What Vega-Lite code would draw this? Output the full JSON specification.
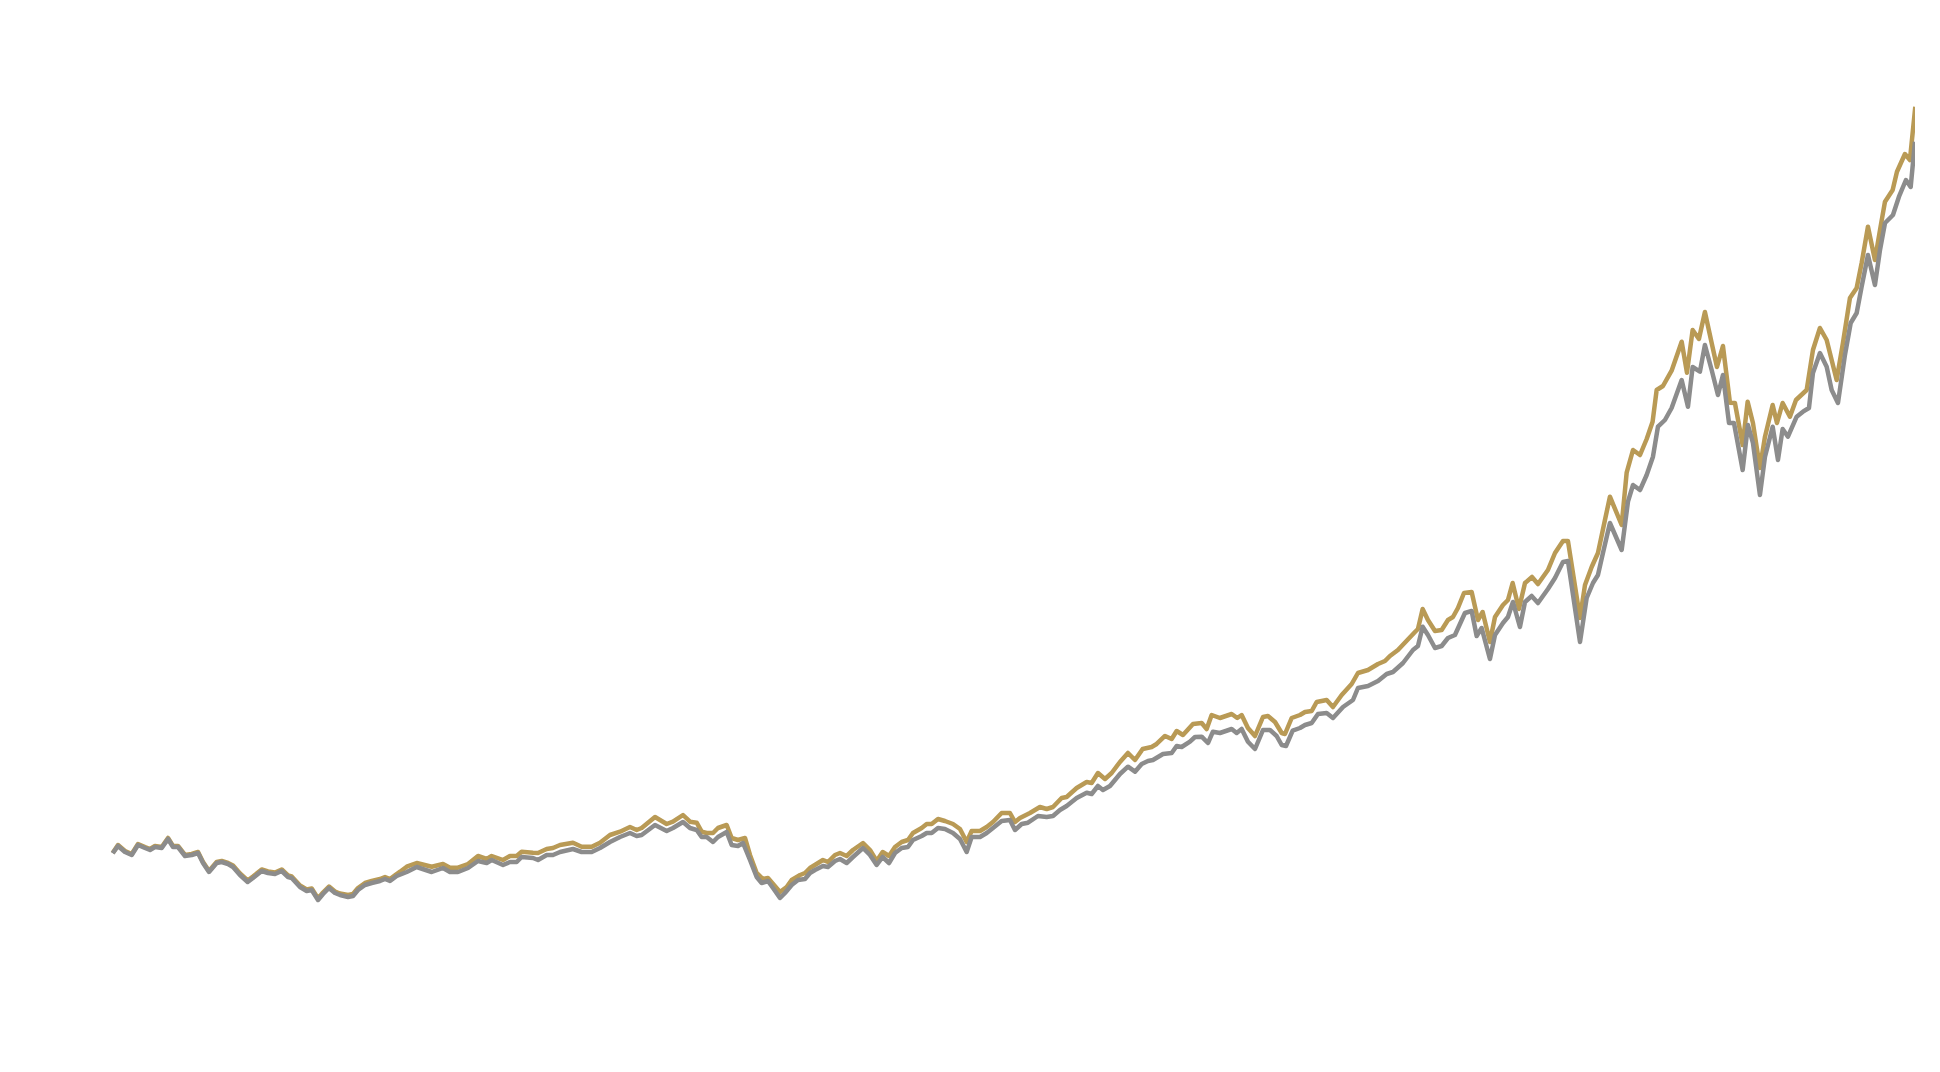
{
  "$schema": "https://vega.github.io/schema/vega-lite/v6.json",
  "width": 1802.6,
  "height": 850,
  "autosize": {"type": "none"},
  "padding": {"left": 112.7, "top": 70, "right": 0, "bottom": 0},
  "background": "white",
  "config": {"view": {"stroke": null}},
  "datasets": {
    "gold": [
      {"m":0,"v":67},{"m":0.85,"v":75},{"m":1.97,"v":69},{"m":3.05,"v":66},{"m":4.06,"v":76},{"m":5.18,"v":73},{"m":5.98,"v":71},{"m":6.78,"v":74},{"m":7.86,"v":73},{"m":8.87,"v":82},{"m":9.67,"v":74},{"m":10.47,"v":74},{"m":11.59,"v":65},{"m":12.67,"v":66},{"m":13.68,"v":68},{"m":14.48,"v":58},{"m":15.44,"v":49},{"m":16.67,"v":58},{"m":17.48,"v":59},{"m":18.49,"v":57},{"m":19.29,"v":54.5},{"m":20.41,"v":46.5},{"m":21.64,"v":39.5},{"m":22.49,"v":43.5},{"m":23.89,"v":50.5},{"m":24.9,"v":48.5},{"m":26.02,"v":47.5},{"m":27.1,"v":50.5},{"m":28.11,"v":44.5},{"m":28.7,"v":43.5},{"m":30.03,"v":34.5},{"m":31.1,"v":30.5},{"m":31.91,"v":31.5},{"m":32.92,"v":21.5},{"m":33.72,"v":27.5},{"m":34.68,"v":33.5},{"m":35.64,"v":28.5},{"m":36.44,"v":26.5},{"m":37.73,"v":25},{"m":38.53,"v":26},{"m":39.33,"v":32},{"m":40.45,"v":37},{"m":41.53,"v":39},{"m":42.86,"v":41},{"m":43.66,"v":43},{"m":44.46,"v":41},{"m":45.53,"v":46},{"m":46.07,"v":48.3},
      {"m":47.14,"v":53.3},{"m":48.74,"v":57},{"m":51.15,"v":53.3},{"m":52.96,"v":56},{"m":54.08,"v":52.3},{"m":55.36,"v":52.3},{"m":56.97,"v":56},{"m":58.57,"v":64},{"m":59.96,"v":61},{"m":60.77,"v":64},{"m":62.58,"v":60},{"m":63.7,"v":64},{"m":64.77,"v":64},{"m":65.57,"v":68.3},{"m":67.39,"v":67.3},{"m":68.19,"v":67},{"m":69.58,"v":71},{"m":70.59,"v":72},{"m":71.72,"v":75},{"m":73.8,"v":77.3},{"m":75.19,"v":73.3},{"m":76.8,"v":73.3},{"m":78.13,"v":77.3},{"m":79.73,"v":85},{"m":81.34,"v":88.3},{"m":82.94,"v":93},{"m":84.01,"v":90},{"m":84.81,"v":92},{"m":86.95,"v":103},{"m":88.82,"v":96},{"m":89.83,"v":98.3},{"m":91.44,"v":105},{"m":92.56,"v":98.3},{"m":93.63,"v":97.3},{"m":94.43,"v":88.3},{"m":95.24,"v":87},{"m":96.25,"v":87},{"m":97.05,"v":92},{"m":98.44,"v":95},{"m":99.24,"v":82},{"m":100.25,"v":80},{"m":101.38,"v":82},{"m":102.18,"v":65},{"m":103.25,"v":47},{"m":104.26,"v":41},{"m":105.06,"v":42},{"m":106.99,"v":28},{"m":108.06,"v":33},{"m":108.86,"v":40},{"m":110.22,"v":45},{"m":111,"v":47},{"m":111.8,"v":52},{"m":113.88,"v":60},{"m":114.68,"v":58},{"m":115.81,"v":65},{"m":116.61,"v":67},{"m":117.68,"v":64},{"m":118.69,"v":70},{"m":120.3,"v":77},{"m":121.42,"v":70},{"m":122.49,"v":59},{"m":123.45,"v":68},{"m":124.47,"v":64},{"m":125.43,"v":73},{"m":126.5,"v":78},{"m":127.51,"v":80},{"m":128.31,"v":87},{"m":129.71,"v":92},{"m":130.51,"v":96},{"m":131.31,"v":96},{"m":132.32,"v":101},{"m":133.44,"v":99},{"m":134.73,"v":96},{"m":135.85,"v":91},{"m":136.92,"v":78},{"m":137.72,"v":89},{"m":139.06,"v":89},{"m":140.13,"v":93},{"m":141.14,"v":98},{"m":142.53,"v":107},{"m":143.86,"v":107},{"m":144.67,"v":98},{"m":145.47,"v":102},{"m":147.07,"v":107},{"m":148.67,"v":113},{"m":149.75,"v":111},{"m":150.76,"v":113},{"m":152.15,"v":122},{"m":152.95,"v":123},{"m":154.56,"v":132},{"m":156.16,"v":138},{"m":156.96,"v":137},{"m":157.97,"v":147},{"m":159.1,"v":141},{"m":160.17,"v":147},{"m":161.5,"v":158},{"m":162.78,"v":167},{"m":163.91,"v":160},{"m":165.14,"v":171},{"m":166.58,"v":173},{"m":167.38,"v":176},{"m":168.72,"v":184},{"m":169.79,"v":181},{"m":170.59,"v":189},{"m":171.6,"v":185},{"m":173.21,"v":196},{"m":174.6,"v":197},{"m":175.4,"v":191},{"m":176.2,"v":205},{"m":177.53,"v":202},{"m":179.41,"v":206},{"m":180.31,"v":202},{"m":181.01,"v":205},{"m":182.02,"v":192},{"m":183.15,"v":184},{"m":184.43,"v":203},{"m":185.23,"v":204},{"m":186.36,"v":198},{"m":187.43,"v":187},{"m":187.96,"v":186},{"m":189.03,"v":202},{"m":190.36,"v":205},{"m":191.17,"v":208},{"m":192.24,"v":209},{"m":193.04,"v":218},{"m":194.64,"v":220},{"m":195.65,"v":213},{"m":197.05,"v":225},{"m":198.65,"v":236},{"m":199.66,"v":247},{"m":201.27,"v":250},{"m":202.87,"v":256},{"m":203.99,"v":259},{"m":204.79,"v":264},{"m":206.07,"v":270},{"m":207.47,"v":279.3},{"m":208.8,"v":288},{"m":209.28,"v":291},{"m":210.03,"v":311},{"m":210.88,"v":300},{"m":212.01,"v":289},{"m":213.08,"v":290},{"m":214.09,"v":300},{"m":214.89,"v":303},{"m":215.69,"v":312},{"m":216.66,"v":327},{"m":217.89,"v":328},{"m":218.9,"v":300},{"m":219.65,"v":308},{"m":220.82,"v":278},{"m":221.63,"v":303},{"m":222.91,"v":315},{"m":223.71,"v":320},{"m":224.46,"v":337},{"m":225.47,"v":311},{"m":226.44,"v":337},{"m":227.56,"v":343},{"m":228.52,"v":336},{"m":230.12,"v":350},{"m":231.25,"v":367},{"m":232.53,"v":379},{"m":233.33,"v":379},{"m":235.26,"v":302},{"m":236.06,"v":335},{"m":237.13,"v":353},{"m":238.14,"v":367},{"m":239.26,"v":400},{"m":240.06,"v":423.3},{"m":241.94,"v":395},{"m":242.74,"v":447.3},{"m":243.76,"v":470},{"m":244.88,"v":465},{"m":245.95,"v":481},{"m":246.9,"v":498.3},{"m":247.55,"v":530},{"m":248.56,"v":534},{"m":249.95,"v":549.3},{"m":251.56,"v":578.3},{"m":252.41,"v":547.3},{"m":253.32,"v":590},{"m":254.33,"v":581},{"m":255.29,"v":608},{"m":256.37,"v":577},{"m":257.22,"v":553},{"m":258.18,"v":574},{"m":259.3,"v":517.3},{"m":260.1,"v":517},{"m":261.34,"v":475},{"m":262.14,"v":518.3},{"m":262.99,"v":497},{"m":264.11,"v":452},{"m":264.92,"v":483.3},{"m":266.15,"v":515},{"m":266.84,"v":497},{"m":267.75,"v":517},{"m":268.92,"v":503.3},{"m":269.89,"v":520},{"m":271.6,"v":530},{"m":272.61,"v":570},{"m":273.73,"v":592},{"m":274.81,"v":580},{"m":276.41,"v":540},{"m":277.42,"v":577},{"m":278.54,"v":622},{"m":279.62,"v":632},{"m":280.42,"v":657},{"m":281.43,"v":693.3},{"m":282.55,"v":660},{"m":283.36,"v":690},{"m":284.16,"v":718.3},{"m":285.39,"v":730},{"m":286.08,"v":748.3},{"m":287.36,"v":766},{"m":288.16,"v":760},{"m":289.02,"v":813.3}
    ],
    "gray": [
      {"m":0,"v":66.7},{"m":0.85,"v":74},{"m":1.97,"v":68},{"m":3.05,"v":65},{"m":4.06,"v":75},{"m":5.18,"v":72},{"m":5.98,"v":70},{"m":6.78,"v":73},{"m":7.86,"v":72},{"m":8.87,"v":81},{"m":9.67,"v":73},{"m":10.47,"v":73},{"m":11.59,"v":64},{"m":12.67,"v":65},{"m":13.68,"v":67},{"m":14.48,"v":57},{"m":15.44,"v":48},{"m":16.67,"v":57},{"m":17.48,"v":58},{"m":18.49,"v":56},{"m":19.29,"v":53},{"m":20.41,"v":45},{"m":21.64,"v":38},{"m":22.49,"v":42},{"m":23.89,"v":49},{"m":24.9,"v":47},{"m":26.02,"v":46},{"m":27.1,"v":49},{"m":28.11,"v":43},{"m":28.7,"v":42},{"m":30.03,"v":33},{"m":31.1,"v":29},{"m":31.91,"v":30},{"m":32.92,"v":20},{"m":33.72,"v":26},{"m":34.68,"v":32},{"m":35.64,"v":27},{"m":36.44,"v":25},{"m":37.73,"v":23},{"m":38.53,"v":24},{"m":39.33,"v":30},{"m":40.45,"v":35},{"m":41.53,"v":37},{"m":42.86,"v":39},{"m":43.66,"v":41},{"m":44.46,"v":39},{"m":45.53,"v":44},{"m":46.34,"v":46},{"m":47.14,"v":48},{"m":48.74,"v":53},{"m":51.15,"v":48},{"m":52.96,"v":52},{"m":54.08,"v":48},{"m":55.36,"v":48},{"m":56.97,"v":52},{"m":58.57,"v":59},{"m":59.96,"v":57},{"m":60.77,"v":60},{"m":62.58,"v":55},{"m":63.7,"v":58},{"m":64.77,"v":58},{"m":65.57,"v":63},{"m":67.39,"v":62},{"m":68.19,"v":60},{"m":69.58,"v":65},{"m":70.59,"v":65},{"m":71.72,"v":68},{"m":73.8,"v":71},{"m":75.19,"v":68},{"m":76.8,"v":68},{"m":78.13,"v":72},{"m":79.73,"v":78},{"m":81.34,"v":83},{"m":82.94,"v":87},{"m":84.01,"v":84},{"m":84.81,"v":85},{"m":86.95,"v":95},{"m":88.82,"v":89},{"m":89.83,"v":92},{"m":91.44,"v":98},{"m":92.56,"v":92},{"m":93.63,"v":90},{"m":94.43,"v":83},{"m":95.24,"v":83},{"m":96.25,"v":78},{"m":97.05,"v":83},{"m":98.44,"v":88},{"m":99.24,"v":75},{"m":100.25,"v":74},{"m":101.06,"v":77},{"m":102.18,"v":60},{"m":103.25,"v":43},{"m":104.05,"v":37},{"m":105.06,"v":39},{"m":105.87,"v":32},{"m":106.99,"v":22},{"m":107.79,"v":27},{"m":108.86,"v":35},{"m":109.88,"v":40},{"m":111,"v":41},{"m":111.8,"v":47},{"m":112.6,"v":50},{"m":113.88,"v":54},{"m":114.68,"v":53},{"m":115.81,"v":59},{"m":116.61,"v":61},{"m":117.68,"v":57},{"m":118.69,"v":63},{"m":120.3,"v":72},{"m":121.42,"v":65},{"m":122.49,"v":55},{"m":123.45,"v":63},{"m":124.47,"v":57},{"m":125.43,"v":67},{"m":126.5,"v":72},{"m":127.51,"v":73},{"m":128.31,"v":80},{"m":129.71,"v":84},{"m":130.51,"v":87},{"m":131.31,"v":87},{"m":132.32,"v":92},{"m":133.44,"v":91},{"m":134.73,"v":87},{"m":135.85,"v":81},{"m":136.92,"v":68},{"m":137.72,"v":83},{"m":139.06,"v":83},{"m":140.13,"v":87},{"m":141.14,"v":92},{"m":142.53,"v":99},{"m":143.86,"v":100},{"m":144.67,"v":90},{"m":145.74,"v":96},{"m":146.75,"v":97.3},{"m":148.35,"v":104},{"m":149.75,"v":103},{"m":150.76,"v":104},{"m":151.88,"v":110},{"m":152.95,"v":114},{"m":154.56,"v":122},{"m":156.16,"v":127.3},{"m":156.96,"v":126},{"m":157.97,"v":134},{"m":158.77,"v":130},{"m":159.9,"v":134},{"m":161.5,"v":146},{"m":162.78,"v":153.3},{"m":163.91,"v":148.3},{"m":164.98,"v":156},{"m":165.99,"v":159},{"m":166.79,"v":160},{"m":168.4,"v":166},{"m":169.79,"v":167},{"m":170.59,"v":174},{"m":171.39,"v":173},{"m":172.72,"v":178.3},{"m":173.53,"v":183},{"m":174.6,"v":183.3},{"m":175.61,"v":177},{"m":176.41,"v":188.3},{"m":177.53,"v":187},{"m":179.41,"v":191},{"m":180.21,"v":187},{"m":181.01,"v":191},{"m":182.02,"v":178.3},{"m":183.15,"v":171},{"m":184.43,"v":190},{"m":185.55,"v":190},{"m":186.62,"v":184},{"m":187.43,"v":175},{"m":188.12,"v":174},{"m":189.19,"v":189.3},{"m":190.36,"v":192},{"m":191.17,"v":195},{"m":192.24,"v":197},{"m":193.25,"v":206},{"m":194.64,"v":207},{"m":195.65,"v":202},{"m":197.26,"v":213},{"m":198.86,"v":220},{"m":199.66,"v":232},{"m":201.27,"v":234},{"m":202.87,"v":239},{"m":204.26,"v":246},{"m":205.27,"v":248},{"m":206.88,"v":257},{"m":208.48,"v":270},{"m":209.28,"v":274},{"m":210.03,"v":293.3},{"m":210.88,"v":285},{"m":212.01,"v":272},{"m":213.08,"v":274},{"m":214.09,"v":282},{"m":215.21,"v":285},{"m":216.81,"v":307},{"m":217.89,"v":309},{"m":218.69,"v":284},{"m":219.49,"v":292},{"m":220.82,"v":261},{"m":221.63,"v":285},{"m":222.91,"v":297},{"m":223.71,"v":303},{"m":224.51,"v":318},{"m":225.63,"v":293},{"m":226.44,"v":318},{"m":227.51,"v":324},{"m":228.52,"v":317},{"m":230.12,"v":331},{"m":231.25,"v":342},{"m":232.53,"v":358},{"m":233.33,"v":359},{"m":235.26,"v":278},{"m":236.33,"v":322},{"m":237.34,"v":337},{"m":238.14,"v":345},{"m":238.94,"v":367},{"m":240.06,"v":397},{"m":241.94,"v":370},{"m":242.95,"v":418.3},{"m":243.76,"v":435},{"m":244.88,"v":430},{"m":245.95,"v":445},{"m":246.96,"v":463.3},{"m":247.76,"v":493.3},{"m":248.88,"v":500},{"m":249.95,"v":512},{"m":251.56,"v":540},{"m":252.57,"v":513.3},{"m":253.32,"v":553},{"m":254.49,"v":548.3},{"m":255.29,"v":575},{"m":256.37,"v":550},{"m":257.38,"v":525},{"m":258.18,"v":545},{"m":259.15,"v":497},{"m":259.95,"v":497},{"m":261.34,"v":450},{"m":262.19,"v":495},{"m":262.99,"v":477},{"m":264.11,"v":425},{"m":264.92,"v":463.3},{"m":266.15,"v":493.3},{"m":267,"v":460},{"m":267.75,"v":491},{"m":268.6,"v":483.3},{"m":270,"v":503.3},{"m":271.01,"v":508.3},{"m":271.97,"v":512},{"m":272.61,"v":547},{"m":273.73,"v":567},{"m":274.81,"v":553.3},{"m":275.61,"v":530},{"m":276.62,"v":517},{"m":277.74,"v":565},{"m":278.66,"v":597},{"m":279.62,"v":607},{"m":280.42,"v":633.3},{"m":281.43,"v":665},{"m":282.55,"v":635},{"m":283.36,"v":670},{"m":284.16,"v":697},{"m":285.44,"v":705},{"m":286.4,"v":723.3},{"m":287.52,"v":740},{"m":288.28,"v":733},{"m":288.97,"v":778.3}
    ]
  },
  "layer": [
    {
      "data": {"name": "gold"},
      "mark": {"type": "line", "color": "#b99a55", "strokeWidth": 4.5, "strokeJoin": "round"},
      "encoding": {
        "x": {"field": "m", "type": "quantitative", "scale": {"domain": [0, 289.02], "nice": false, "zero": false}, "axis": null},
        "y": {"field": "v", "type": "quantitative", "scale": {"domain": [0, 850], "nice": false, "zero": false}, "axis": null},
        "order": {"field": "m"}
      }
    },
    {
      "data": {"name": "gray"},
      "mark": {"type": "line", "color": "#8c8c8c", "strokeWidth": 4.5, "strokeJoin": "round"},
      "encoding": {
        "x": {"field": "m", "type": "quantitative", "scale": {"domain": [0, 289.02], "nice": false, "zero": false}, "axis": null},
        "y": {"field": "v", "type": "quantitative", "scale": {"domain": [0, 850], "nice": false, "zero": false}, "axis": null},
        "order": {"field": "m"}
      }
    }
  ]
}
